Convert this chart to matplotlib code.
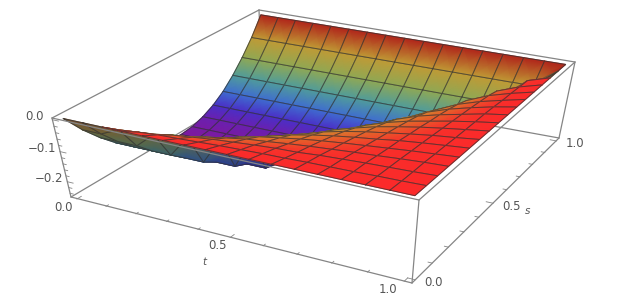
import matplotlib
matplotlib.use('Agg')
import matplotlib.pyplot as plt
from matplotlib.colors import LinearSegmentedColormap, Normalize
import numpy as np

# surface heights, one row per s value (s = 0 ... 1), one column per t value
t_vals = np.arange(17) / 16
s_vals = np.arange(17) / 16
z_rows = [
    [0.0] * 17,
    [-.059] * 2 + [-.033, -.027, -.022, -.020, -.017, -.014, -.012, -.010, -.009, -.007, -.006, -.005, -.003, -.002, 0],
    [-.109] * 3 + [-.060, -.048, -.041, -.034, -.029, -.024, -.020, -.018, -.013, -.010, -.007, -.005, -.003, 0],
    [-.152] * 4 + [-.081, -.066, -.055, -.045, -.039, -.032, -.026, -.021, -.016, -.012, -.007, -.003, 0],
    [-.188] * 5 + [-.099, -.078, -.063, -.053, -.043, -.035, -.028, -.022, -.016, -.010, -.005, 0],
    [-.215] * 6 + [-.110, -.086, -.069, -.056, -.045, -.036, -.028, -.019, -.012, -.006, 0],
    [-.234] * 7 + [-.118, -.091, -.071, -.056, -.044, -.034, -.024, -.015, -.008, 0],
    [-.246] * 8 + [-.120, -.089, -.070, -.053, -.040, -.028, -.018, -.009, 0],
    [-.250] * 9 + [-.116, -.086, -.064, -.047, -.034, -.021, -.010, 0],
    [-.246] * 10 + [-.109, -.078, -.055, -.038, -.024, -.010, 0],
    [-.234] * 11 + [-.098, -.066, -.044, -.027, -.012, 0],
    [-.215] * 12 + [-.082, -.052, -.031, -.015, 0],
    [-.188] * 13 + [-.063, -.035, -.016, 0],
    [-.152] * 14 + [-.043, -.018, 0],
    [-.109] * 15 + [-.020, 0],
    [-.059] * 16 + [0],
    [0.0] * 17,
]
z_grid = np.array(z_rows)

t_ticks = [0.0, 0.5, 1.0]
s_ticks = [0.0, 0.5, 1.0]
z_ticks = [0.0, -0.1, -0.2]
t_minor = np.arange(0, 11) / 10
s_minor = np.arange(0, 11) / 10
z_minor = -np.arange(0, 13) * 0.02

# box limits and where its corners land in the picture (camera calibration)
t_lo, t_hi = -0.02, 1.02
s_lo, s_hi = -0.02, 1.02
z_lo, z_hi = -0.255, 0.005
esquinas = [
    ((t_lo, s_lo, z_hi), (52, 118)),
    ((t_lo, s_hi, z_hi), (259, 10)),
    ((t_hi, s_hi, z_hi), (575, 62)),
    ((t_hi, s_lo, z_hi), (419, 200)),
    ((t_lo, s_lo, z_lo), (71, 197)),
    ((t_lo, s_hi, z_lo), (262, 84)),
    ((t_hi, s_hi, z_lo), (559, 138)),
    ((t_hi, s_lo, z_lo), (412, 283)),
]


def calibrar(pares):
    filas, b = [], []
    for (x, y, z), (u, v) in pares:
        filas.append([x, y, z, 1, 0, 0, 0, 0, -u * x, -u * y, -u * z])
        filas.append([0, 0, 0, 0, x, y, z, 1, -v * x, -v * y, -v * z])
        b += [u, v]
    p = np.linalg.lstsq(np.array(filas, float), np.array(b, float), rcond=None)[0]
    return np.append(p, 1.0).reshape(3, 4)


P = calibrar(esquinas)


def proyectar(t, s, z):
    t, s, z = np.broadcast_arrays(t, s, z)
    w = P[2, 0] * t + P[2, 1] * s + P[2, 2] * z + P[2, 3]
    x = (P[0, 0] * t + P[0, 1] * s + P[0, 2] * z + P[0, 3]) / w
    y = (P[1, 0] * t + P[1, 1] * s + P[1, 2] * z + P[1, 3]) / w
    return x, y, w


cmap_pared = LinearSegmentedColormap.from_list('pared', [
    (0.0, '#7d1aa0'), (0.064, '#6a20b0'), (0.14, '#4a30c8'), (0.25, '#3f6fd0'),
    (0.39, '#4f9c9c'), (0.56, '#8fa855'), (0.766, '#c09a35'), (0.9, '#c8602a'), (1.0, '#b0241a')])
cmap_frente = LinearSegmentedColormap.from_list('frente', [
    (0.0, '#5a28b0'), (0.3, '#3f7fb0'), (0.55, '#8a9a50'), (0.72, '#d08a30'),
    (0.86, '#e85a2a'), (0.93, '#f8302a'), (1.0, '#fb2a2a')])
cmap_debajo = LinearSegmentedColormap.from_list('debajo', [
    (0.0, '#2a2090'), (0.2, '#2a4a90'), (0.45, '#3f6a60'), (0.7, '#6a6a3a'), (1.0, '#7a5030')])
norma = Normalize(-0.25, 0.0)

fig = plt.figure(figsize=(6.25, 2.99), dpi=100)
ax = fig.add_axes([0, 0, 1, 1])
ax.set_xlim(0, 625)
ax.set_ylim(299, 0)
ax.axis('off')

color_caja = '#858585'
color_texto = '#555555'

T, S = np.meshgrid(t_vals, s_vals)
X, Y, W = proyectar(T, S, z_grid)
Xp, Yp, _ = proyectar(T, S, 0.0)


def area(xs, ys):
    return xs[0, 0] * ys[0, 1] - xs[0, 1] * ys[0, 0] + xs[0, 1] * ys[1, 1] - xs[1, 1] * ys[0, 1] \
        + xs[1, 1] * ys[1, 0] - xs[1, 0] * ys[1, 1] + xs[1, 0] * ys[0, 0] - xs[0, 0] * ys[1, 0]


# box edges behind the surface
oculto = (t_lo, s_hi, z_lo)
aristas = []
for a in esquinas:
    for b in esquinas:
        if a[0] < b[0] and sum(p != q for p, q in zip(a[0], b[0])) == 1:
            aristas.append((a, b))
for a, b in aristas:
    detras = a[0] == oculto or b[0] == oculto
    ax.plot([a[1][0], b[1][0]], [a[1][1], b[1][1]], color=color_caja, lw=0.9,
            zorder=1 if detras else 2000, solid_capstyle='round')

# cells from far to near
n = len(t_vals) - 1
celdas = [(i, j) for j in range(n) for i in range(n)]
celdas.sort(key=lambda c: -W[c[1]:c[1] + 2, c[0]:c[0] + 2].mean())
signo = np.sign(area(Xp[:2, :2], Yp[:2, :2]))

for orden, (i, j) in enumerate(celdas):
    xs, ys, zs = X[j:j + 2, i:i + 2], Y[j:j + 2, i:i + 2], z_grid[j:j + 2, i:i + 2]
    if np.sign(area(xs, ys)) != signo:
        cmap = cmap_debajo
    elif i > j:
        cmap = cmap_frente
    else:
        cmap = cmap_pared
    ax.pcolormesh(xs, ys, zs, shading='gouraud', cmap=cmap, norm=norma, zorder=10 + 2 * orden)
    ax.plot([xs[0, 0], xs[0, 1], xs[1, 1], xs[1, 0], xs[0, 0]],
            [ys[0, 0], ys[0, 1], ys[1, 1], ys[1, 0], ys[0, 0]],
            color='#333333', lw=0.7, alpha=0.75, zorder=11 + 2 * orden)


def marca(p0, p1):
    x, y, _ = proyectar(*np.array([p0, p1]).T)
    ax.plot(x, y, color=color_caja, lw=0.6, zorder=2000)


for v in t_minor:
    largo = 0.02 if v in t_ticks else 0.011
    marca((v, s_lo, z_lo), (v, s_lo + largo, z_lo))
for v in s_minor:
    largo = 0.02 if v in s_ticks else 0.011
    marca((t_hi, v, z_lo), (t_hi - largo, v, z_lo))
for v in z_minor:
    largo = 0.02 if np.round(v, 2) in z_ticks else 0.011
    marca((t_lo, s_lo, v), (t_lo + largo, s_lo, v))


def rotulo(t, s, z, texto, dx, dy, **kw):
    x, y, _ = proyectar(t, s, z)
    ax.text(x + dx, y + dy, texto, ha='center', va='center', fontsize=8.5,
            color=color_texto, zorder=3000, **kw)


for v in t_ticks:
    rotulo(v, s_lo, z_lo, f'{v:.1f}', -13 if v < 1 else -16, 8)
for v in s_ticks:
    rotulo(t_hi, v, z_lo, f'{v:.1f}', 18, 3)
for v in z_ticks:
    rotulo(t_lo, s_lo, v, f'{v:.1f}'.replace('-', '\u2212'), -18, -3)
ax.text(204, 262, 't', style='italic', fontsize=7.5, color=color_texto, ha='center', va='center')
ax.text(528, 211, 's', style='italic', fontsize=7.5, color=color_texto, ha='center', va='center')

fig.savefig('out.png', dpi=100)
